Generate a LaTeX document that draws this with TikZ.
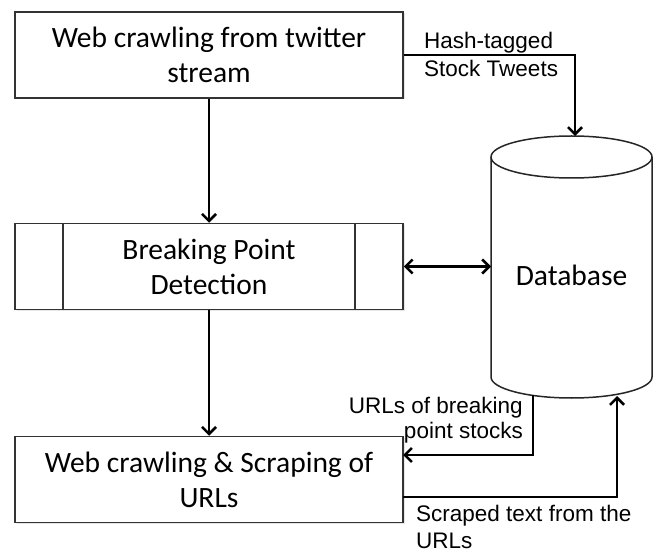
\documentclass[tikz,border=0pt]{standalone}
\usepackage{fontspec}
\setmainfont{Carlito}
\newfontfamily\labfont{Liberation Sans}
\usetikzlibrary{arrows.meta,shadows}
\begin{document}
\begin{tikzpicture}[x=1pt,y=-1pt,
  box/.style={draw=black!80, line width=1.5pt, fill=white, minimum width=388pt, minimum height=86pt,
    align=center, inner sep=0pt, font=\fontsize{29.5}{35}\selectfont,
    drop shadow={opacity=0.2, shadow xshift=1.5pt, shadow yshift=-1.5pt}},
  tip/.style={Straight Barb[length=7pt,width=14pt,line width=2.6pt]},
  arr/.style={line width=2.8pt, -{Straight Barb[length=7pt,width=14pt,line width=2.6pt]}},
  darr/.style={line width=2.8pt, {Straight Barb[length=7pt,width=14pt,line width=2.6pt]}-{Straight Barb[length=7pt,width=14pt,line width=2.6pt]}},
  lab/.style={inner sep=0pt, font=\labfont\fontsize{22.5}{27}\selectfont}
]
\useasboundingbox (0,0) rectangle (653,553);
% boxes
\node[box] (b1) at (209,55) {Web crawling from twitter\\stream};
\node[box] (b2) at (209,266.5) {Breaking Point\\Detection};
\draw[black!80, line width=1.5pt] (63,223) -- (63,310) (355,223) -- (355,310);
\node[box] (b3) at (209,479.5) {Web crawling \& Scraping of\\URLs};
% database cylinder
\draw[black!85, line width=1.5pt, fill=white]
  (491,157) -- (491,377) arc[start angle=180, end angle=360, x radius=80.5, y radius=-21]
  -- (652,157) arc[start angle=0, end angle=180, x radius=80.5, y radius=-21] -- cycle;
\draw[black!85, line width=1.5pt] (491,157) arc[start angle=180, end angle=360, x radius=80.5, y radius=-21];
\node[font=\fontsize{29.5}{35}\selectfont] (db) at (571.5,275) {Database};
\coordinate (dbtop) at (575,136);
\coordinate (dbleft) at (491,266.5);
\coordinate (dbb1) at (533,395);
\coordinate (dbb2) at (617,396);
\coordinate (u3) at (403,455);
\coordinate (s3) at (403,497);
% connectors
\draw[arr] (b1) -- (b2);
\draw[arr] (b2) -- (b3);
\draw[arr] (b1.east) -| (dbtop);
\draw[darr] (b2.east) -- (dbleft);
\draw[arr] (dbb1) |- (u3);
\draw[arr] (s3) -| (dbb2);
% labels
\node[lab, anchor=west, align=left, font=\labfont\fontsize{22.5}{28}\selectfont] (l1) at (424,54) {Hash-tagged\\Stock Tweets};
\node[lab, anchor=east, align=right, font=\labfont\fontsize{22.5}{25}\selectfont] (l2) at (523,420.5) {URLs of breaking\\point stocks};
\node[lab, anchor=west, align=left] (l3) at (416,526.5) {Scraped text from the\\URLs};
\end{tikzpicture}
\end{document}
